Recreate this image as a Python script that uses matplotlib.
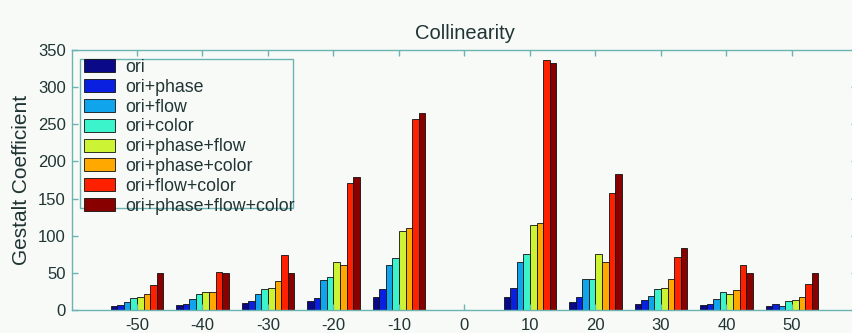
import numpy as np
import matplotlib
matplotlib.use("Agg")
import matplotlib.pyplot as plt
from matplotlib.patches import Rectangle

# 数据
angles = [-50, -40, -30, -20, -10, 0, 10, 20, 30, 40, 50]
series_names = [
    "ori",
    "ori+phase",
    "ori+flow",
    "ori+color",
    "ori+phase+flow",
    "ori+phase+color",
    "ori+flow+color",
    "ori+phase+flow+color",
]
ori = [6, 7, 9, 12, 18, 0, 18, 11, 8, 7, 5]
ori_phase = [7, 8, 12, 16, 28, 0, 30, 18, 13, 8, 8]
ori_flow = [11, 15, 21, 40, 61, 0, 65, 42, 19, 15, 6]
ori_color = [16, 22, 28, 44, 70, 0, 75, 42, 28, 24, 12]
ori_phase_flow = [18, 24, 30, 65, 107, 0, 114, 75, 30, 21, 14]
ori_phase_color = [22, 24, 39, 60, 110, 0, 117, 64, 42, 27, 17]
ori_flow_color = [34, 51, 74, 171, 257, 0, 336, 158, 71, 60, 35]
ori_all = [50, 50, 50, 179, 265, 0, 332, 183, 83, 50, 50]
series = [ori, ori_phase, ori_flow, ori_color,
          ori_phase_flow, ori_phase_color, ori_flow_color, ori_all]

colors = ["#0a0a88", "#0a20e0", "#10a4ec", "#3cf4cc",
          "#ccf434", "#ffa800", "#ff2000", "#880000"]

text_c = "#203434"
edge_c = "#6cb4b4"
bg = "#f7faf7"

plt.rcParams["font.family"] = ["Liberation Sans", "DejaVu Sans"]
plt.rcParams["text.color"] = text_c
plt.rcParams["axes.labelcolor"] = text_c
plt.rcParams["xtick.color"] = edge_c
plt.rcParams["ytick.color"] = edge_c
plt.rcParams["xtick.labelcolor"] = text_c
plt.rcParams["ytick.labelcolor"] = text_c

fig = plt.figure(figsize=(8.52, 3.33), dpi=100, facecolor=bg)
ax = fig.add_axes([71.5 / 852, 23 / 333, 786 / 852, 260 / 333], facecolor=bg)

pos = np.arange(1, len(angles) + 1)
n = len(series)
w = 0.8 / n
for i, (vals, name, c) in enumerate(zip(series, series_names, colors)):
    ax.bar(pos - 0.4 + w * (i + 0.5), vals, width=w, color=c,
           edgecolor="#101010", linewidth=0.6, label=name)

ax.set_xlim(0, 12)
ax.set_ylim(0, 350)
ax.set_xticks(pos)
ax.set_xticklabels([str(a) for a in angles])
ax.set_yticks(np.arange(0, 351, 50))

ax.tick_params(direction="in", length=4, width=1, top=True, right=True,
               labelsize=12)
ax.tick_params(axis="x", pad=6)
ax.tick_params(axis="y", pad=4)
for s in ax.spines.values():
    s.set_color(edge_c)
    s.set_linewidth(1)

ax.set_title("Collinearity", fontsize=14.5, pad=8, color=text_c)
ax.set_ylabel("Gestalt Coefficient", fontsize=15, labelpad=5)

# 图例框 (MATLAB 原图中条目略溢出边框)
ax.add_patch(Rectangle((0.0108, 0.392), 0.271, 0.573, transform=ax.transAxes,
                       facecolor=bg, edgecolor=edge_c, linewidth=1, zorder=4))
leg = ax.legend(loc="upper left", bbox_to_anchor=(0.016, 0.966),
                fontsize=12.8, frameon=False,
                handlelength=1.75, handleheight=0.75, handletextpad=0.55,
                labelspacing=0.16, borderpad=0.0, borderaxespad=0.0)
leg.set_zorder(5)

fig.savefig("out.png", dpi=100, facecolor=bg)
